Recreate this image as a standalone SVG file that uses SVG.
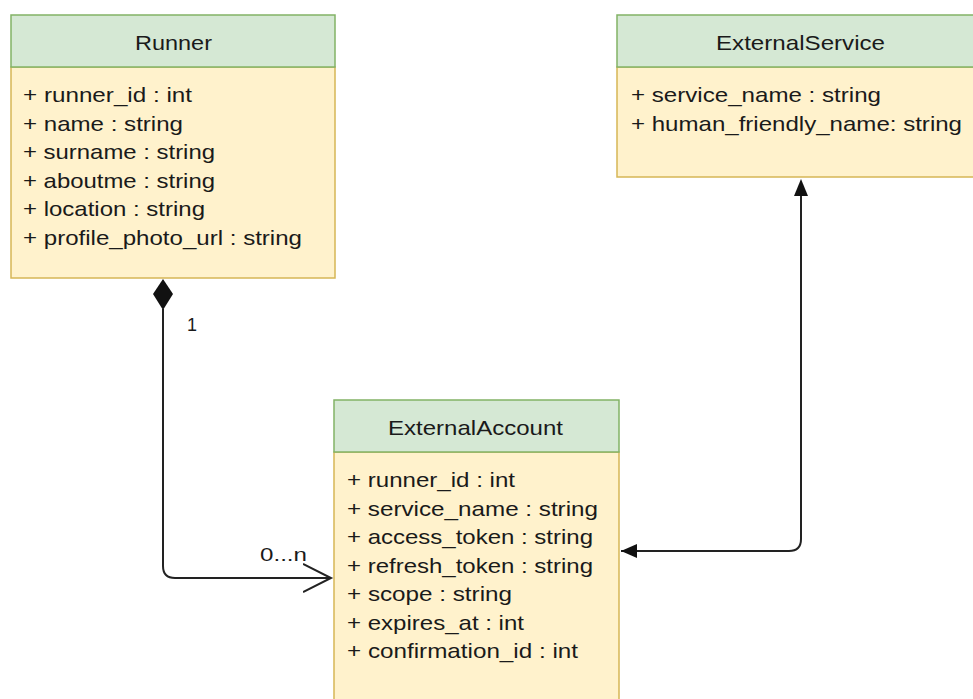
<svg xmlns="http://www.w3.org/2000/svg" width="973" height="699" viewBox="0 0 973 699">
<defs>
<style>
.hd{fill:#d5e8d4;stroke:#82b366;stroke-width:1.5}
.bd{fill:#fff2cc;stroke:#d6b656;stroke-width:1.5}
.t{font-family:"Liberation Sans",Arial,sans-serif;font-size:21px;fill:#1a1a1a}
.c{text-anchor:middle}
.ln{fill:none;stroke:#222;stroke-width:2}
</style>
<marker id="filled" markerWidth="18" markerHeight="16" refX="16" refY="8" orient="auto" markerUnits="userSpaceOnUse" viewBox="0 0 18 16">
<path d="M0,1 L16,8 L0,15 Z" fill="#111"/>
</marker>
<marker id="open" markerWidth="32" markerHeight="32" refX="28" refY="15" orient="auto" markerUnits="userSpaceOnUse" viewBox="0 0 32 30">
<path d="M0,1 L28,15 L0,29" fill="none" stroke="#222" stroke-width="2"/>
</marker>
</defs>
<rect width="973" height="699" fill="#fff"/>
<g id="runner">
<rect class="bd" x="11" y="67" width="324" height="211"/>
<rect class="hd" x="11" y="15" width="324" height="52"/>
<text class="t c" x="173.5" y="50" textLength="77" lengthAdjust="spacingAndGlyphs">Runner</text>
<text class="t" x="23" y="102" textLength="169" lengthAdjust="spacingAndGlyphs">+ runner_id : int</text>
<text class="t" x="23" y="130.5" textLength="160" lengthAdjust="spacingAndGlyphs">+ name : string</text>
<text class="t" x="23" y="159" textLength="192" lengthAdjust="spacingAndGlyphs">+ surname : string</text>
<text class="t" x="23" y="187.5" textLength="192" lengthAdjust="spacingAndGlyphs">+ aboutme : string</text>
<text class="t" x="23" y="216" textLength="182" lengthAdjust="spacingAndGlyphs">+ location : string</text>
<text class="t" x="23" y="244.5" textLength="279" lengthAdjust="spacingAndGlyphs">+ profile_photo_url : string</text>
</g>
<g id="externalservice">
<rect class="bd" x="617" y="67" width="358" height="110"/>
<rect class="hd" x="617" y="15" width="358" height="52"/>
<text class="t c" x="800.5" y="50" textLength="169" lengthAdjust="spacingAndGlyphs">ExternalService</text>
<text class="t" x="631" y="102" textLength="250" lengthAdjust="spacingAndGlyphs">+ service_name : string</text>
<text class="t" x="631" y="131" textLength="331" lengthAdjust="spacingAndGlyphs">+ human_friendly_name: string</text>
</g>
<g id="externalaccount">
<rect class="bd" x="334" y="452" width="285" height="250"/>
<rect class="hd" x="334" y="400" width="285" height="52"/>
<text class="t c" x="475.5" y="435" textLength="175" lengthAdjust="spacingAndGlyphs">ExternalAccount</text>
<text class="t" x="347" y="487" textLength="168" lengthAdjust="spacingAndGlyphs">+ runner_id : int</text>
<text class="t" x="347" y="515.5" textLength="251" lengthAdjust="spacingAndGlyphs">+ service_name : string</text>
<text class="t" x="347" y="544" textLength="246" lengthAdjust="spacingAndGlyphs">+ access_token : string</text>
<text class="t" x="347" y="572.5" textLength="246" lengthAdjust="spacingAndGlyphs">+ refresh_token : string</text>
<text class="t" x="347" y="601" textLength="165" lengthAdjust="spacingAndGlyphs">+ scope : string</text>
<text class="t" x="347" y="629.5" textLength="177" lengthAdjust="spacingAndGlyphs">+ expires_at : int</text>
<text class="t" x="347" y="658" textLength="231" lengthAdjust="spacingAndGlyphs">+ confirmation_id : int</text>
</g>
<g id="connectors">
<path class="ln" d="M163,309 L163,566 Q163,578 175,578 L331,578" marker-end="url(#open)"/>
<path d="M163,279 L173,294 L163,310 L153,294 Z" fill="#111"/>
<path class="ln" d="M801,194 L801,539 Q801,551 789,551 L621,551" marker-end="url(#filled)"/>
<path d="M801,179 L808,196 L794,196 Z" fill="#111"/>
<text class="t" x="187" y="331" style="font-size:18px">1</text>
<text class="t" x="260" y="561" style="font-size:19px" textLength="47" lengthAdjust="spacingAndGlyphs">0...n</text>
</g>
</svg>
